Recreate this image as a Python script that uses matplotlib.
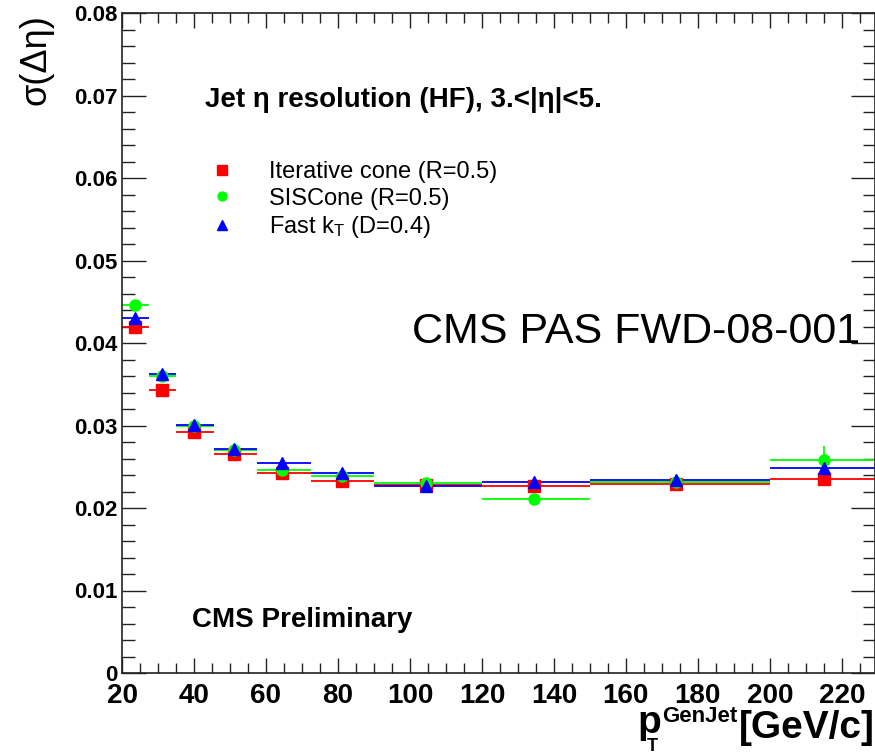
import numpy as np
import matplotlib.pyplot as plt
from matplotlib.lines import Line2D
from matplotlib.ticker import MultipleLocator, FuncFormatter

plt.rcParams['font.family'] = ['Liberation Sans', 'DejaVu Sans']
plt.rcParams['mathtext.fontset'] = 'custom'
plt.rcParams['mathtext.rm'] = 'Liberation Sans'
plt.rcParams['mathtext.bf'] = 'Liberation Sans:bold'
plt.rcParams['mathtext.it'] = 'Liberation Sans:italic'

# pT bins of the generated jet and mean pT in each bin
bin_edges = [20, 27.5, 35, 45.5, 57.5, 72.5, 90, 120, 150, 200, 250]
pt_mean = [23.5, 31, 40, 51, 64.5, 81, 104.5, 134.5, 174, 215]

# sigma(delta eta) per algorithm
icone = [0.0420, 0.0343, 0.02925, 0.02655, 0.0242, 0.0233, 0.0228, 0.0227, 0.0229, 0.0235]
icone_err = [0.0003, 0.0002, 0.0002, 0.0002, 0.0002, 0.0002, 0.0002, 0.0003, 0.0003, 0.0006]
siscone = [0.0446, 0.0360, 0.0299, 0.0270, 0.0246, 0.0239, 0.0230, 0.0211, 0.0232, 0.0258]
siscone_err = [0.0003, 0.0002, 0.0002, 0.0002, 0.0002, 0.0002, 0.0002, 0.0003, 0.0004, 0.0017]
fastkt = [0.0430, 0.0362, 0.0301, 0.0272, 0.0255, 0.0242, 0.0227, 0.0232, 0.0234, 0.0249]
fastkt_err = [0.0003, 0.0002, 0.0002, 0.0002, 0.0002, 0.0002, 0.0002, 0.0003, 0.0006, 0.0015]

labels = ['Iterative cone (R=0.5)', 'SISCone (R=0.5)', r'Fast k$_\mathregular{T}$ (D=0.4)']

edges = np.array(bin_edges)
pt = np.array(pt_mean)
xerr = [pt - edges[:-1], edges[1:] - pt]

W, H = 875, 756
fig = plt.figure(figsize=(W / 100, H / 100), dpi=100)
ax = fig.add_axes([122 / W, 83 / H, 753 / W, 660 / H])

series = [(icone, icone_err, 's', '#ff0000', 8.5),
          (siscone, siscone_err, 'o', '#00ff00', 8),
          (fastkt, fastkt_err, '^', '#0000ff', 9)]
for vals, errs, mk, col, ms in series:
    ax.errorbar(pt, vals, xerr=xerr, yerr=errs, fmt=mk, color=col, ms=ms,
                mec=col, lw=1.3, capsize=0)

ax.set_xlim(20, 229.2)
ax.set_ylim(0, 0.08)
ax.xaxis.set_major_locator(MultipleLocator(20))
ax.xaxis.set_minor_locator(MultipleLocator(5))
ax.yaxis.set_major_locator(MultipleLocator(0.01))
ax.yaxis.set_minor_locator(MultipleLocator(0.002))
ax.yaxis.set_major_formatter(FuncFormatter(lambda v, p: '0' if abs(v) < 1e-9 else '%.2f' % v))

ax.tick_params(which='both', direction='in', top=True, right=True, width=1, color='#222222')
ax.tick_params(axis='x', which='major', length=11, labelsize=20, pad=7)
ax.tick_params(axis='x', which='minor', length=7)
ax.tick_params(axis='y', which='major', length=17, labelsize=16, pad=3)
ax.tick_params(axis='y', which='minor', length=9)
for lab in ax.get_xticklabels() + ax.get_yticklabels():
    lab.set_fontweight('bold')
for sp in ax.spines.values():
    sp.set_linewidth(1.2)
    sp.set_color('#222222')

# x axis title, built piece by piece so the superscript stays low
renderer = fig.canvas.get_renderer()

unit = fig.text(1.0, 1 - 738 / H, '[GeV/c]', ha='right', va='baseline', fontsize=28, fontweight='bold')
x0 = unit.get_window_extent(renderer).x0
sup = fig.text((x0 - 2) / W, 1 - 722 / H, 'GenJet', ha='right', va='baseline',
               fontsize=16, fontweight='bold')
x1 = sup.get_window_extent(renderer).x0
pl = fig.text((x1 - 1) / W, 1 - 733 / H, 'p', ha='right', va='baseline', fontsize=28, fontweight='bold')
bb = pl.get_window_extent(renderer)
fig.text((bb.x0 + 0.62 * bb.width) / W, 1 - 751 / H, 'T', ha='center', va='baseline',
         fontsize=13, fontweight='bold')

fig.text(36 / W, 1 - 60 / H, 'σ(Δη)', rotation=90, ha='center', va='center', fontsize=26)

# annotations
fig.text(205 / W, 1 - 100 / H, 'Jet η resolution (HF), 3.<|η|<5.', ha='left', va='center',
         fontsize=20, fontweight='bold')
fig.text(192 / W, 1 - 620 / H, 'CMS Preliminary', ha='left', va='center',
         fontsize=20, fontweight='bold')
fig.text(412 / W, 1 - 332 / H, 'CMS PAS FWD-08-001', ha='left', va='center', fontsize=31)

handles = [Line2D([], [], ls='none', marker=mk, color=col, ms=ms * 0.8)
           for _, _, mk, col, ms in series]
ax.legend(handles, labels, loc='upper left', bbox_to_anchor=(210 / W, 1 - 161 / H),
          bbox_transform=fig.transFigure, frameon=False, fontsize=17,
          handlelength=1.0, handletextpad=1.5, labelspacing=0.2, borderpad=0,
          borderaxespad=0)

fig.savefig('out.png', dpi=100)
